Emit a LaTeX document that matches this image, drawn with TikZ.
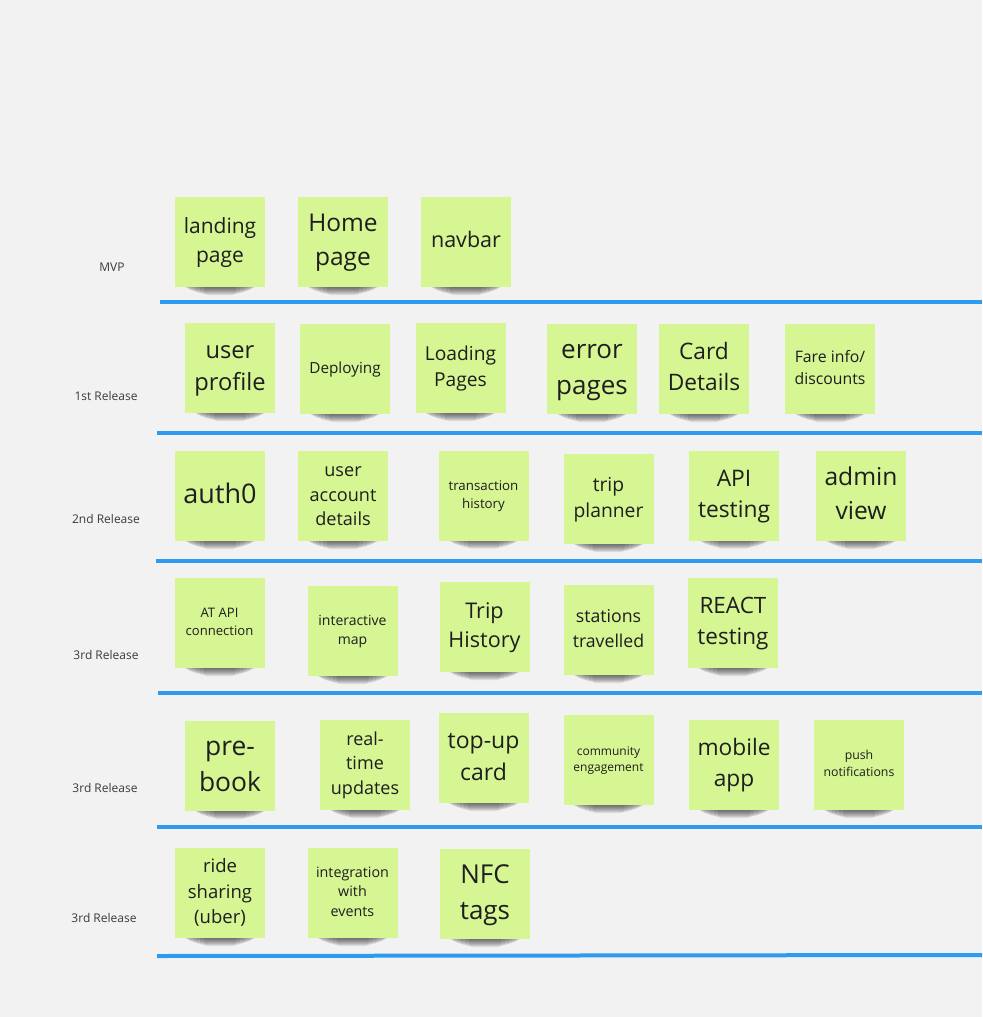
\documentclass[tikz,border=0pt]{standalone}
\usepackage{fontspec}
\setmainfont{Open Sans}
\definecolor{bgc}{HTML}{F2F2F2}
\definecolor{sticky}{HTML}{D6F593}
\definecolor{txtc}{HTML}{1E1E1E}
\definecolor{lblc}{HTML}{3A3A3A}
\definecolor{lanec}{HTML}{2D9BF0}
\newcommand\fpx[1]{\fontsize{\fpeval{#1*0.75}}{\fpeval{#1*0.75*1.38}}\selectfont}
\tikzset{
  note/.style={rectangle, fill=sticky, minimum width=67.5pt, minimum height=67.5pt,
    inner sep=1pt, align=center, text=txtc},
  shadowlayer/.style={fill=black, opacity=0.085, rounded corners=2.5pt},
  lane/.style={draw=lanec, line width=3pt},
  lbl/.style={text=lblc, font=\fpx{12}, inner sep=0pt}
}
\newcommand\Note[5]{%
  \foreach \d/\dx in {1/9,2/11,3/13,4/15,5/18,6/21,7/25,8/29}
    \fill[shadowlayer] (#2-45+\dx,#3+30) rectangle (#2+45-\dx,#3+45+\d);
  \node[note, font=\fpx{#4}] (#1) at (#2,#3) {\strut#5\strut};}
\begin{document}
\begin{tikzpicture}[x=0.75pt,y=-0.75pt]
\useasboundingbox (0,0) rectangle (982,1017);
\fill[bgc] (0,0) rectangle (982,1017);
% lanes
\coordinate (l1a) at (160,302); \coordinate (l1b) at (982,302);
\coordinate (l2a) at (157,433); \coordinate (l2b) at (982,433);
\coordinate (l3a) at (156,561); \coordinate (l3b) at (982,561);
\coordinate (l4a) at (158,693); \coordinate (l4b) at (982,693);
\coordinate (l5a) at (157,827); \coordinate (l5b) at (982,827);
\coordinate (l6a) at (157,956); \coordinate (l6b) at (982,955);
\draw[lane] (l1a) -- (l1b);
\draw[lane] (l2a) -- (l2b);
\draw[lane] (l3a) -- (l3b);
\draw[lane] (l4a) -- (l4b);
\draw[lane] (l5a) -- (l5b);
\draw[lane] (l6a) -- (l6b);
% labels
\node[lbl] (lab1) at (112,267) {MVP};
\node[lbl] (lab2) at (106,396) {1st Release};
\node[lbl] (lab3) at (106,519) {2nd Release};
\node[lbl] (lab4) at (106,655) {3rd Release};
\node[lbl] (lab5) at (105,788) {3rd Release};
\node[lbl] (lab6) at (104,918) {3rd Release};
% MVP
\Note{landing}{220}{242}{21}{landing\\page}
\Note{home}{343}{242}{24.5}{Home\\page}
\Note{navbar}{466}{242}{21.5}{navbar}
% 1st release
\Note{uprof}{230}{368}{23.7}{user\\profile}
\Note{deploy}{345}{369}{15.3}{Deploying}
\Note{loading}{460.5}{368}{19.2}{Loading\\Pages}
\Note{error}{592}{369}{26}{error\\pages}
\Note{card}{704}{369}{22.7}{Card\\Details}
\Note{fare}{830}{369}{15.8}{Fare info/\\discounts}
% 2nd release
\Note{auth}{220}{496}{27}{auth0}
\Note{uad}{343}{496}{18.1}{user\\account\\details}
\Note{trans}{483.5}{495.5}{13.3}{transaction\\history}
\Note{tripp}{608.5}{499}{19.3}{trip\\planner}
\Note{api}{734}{495.5}{22.8}{API\\testing}
\Note{admin}{861}{496}{24.6}{admin\\view}
% 3rd release (a)
\Note{atapi}{219.5}{623}{13.1}{AT API\\connection}
\Note{imap}{352.5}{631}{14}{interactive\\map}
\Note{thist}{484.5}{627}{21.6}{Trip\\History}
\Note{stat}{608.5}{630}{17.7}{stations\\travelled}
\Note{react}{733}{623}{22.5}{REACT\\testing}
% 3rd release (b)
\Note{prebook}{230}{766}{26.4}{pre-\\book}
\Note{rtu}{365}{765}{18}{real-\\time\\updates}
\Note{topup}{483.5}{758}{23}{top-up\\card}
\Note{comm}{608.5}{760}{12}{community\\engagement}
\Note{mobile}{734}{765}{22.7}{mobile\\app}
\Note{push}{859}{765}{12.3}{push\\notifications}
% 3rd release (c)
\Note{ride}{220}{893}{18.5}{ride\\sharing\\(uber)}
\Note{integ}{352.5}{893}{14.3}{integration\\with\\events}
\Note{nfc}{485}{894}{26}{NFC\\tags}
\end{tikzpicture}
\end{document}
